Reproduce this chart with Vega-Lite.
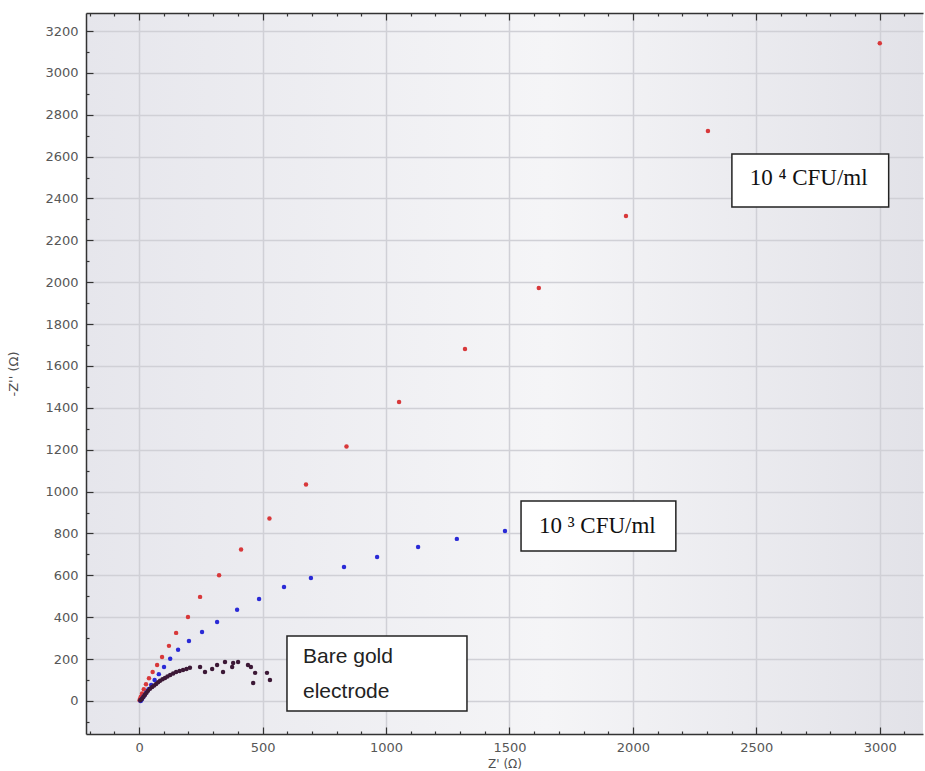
{
  "$schema": "https://vega.github.io/schema/vega-lite/v6.json",
  "width": 837,
  "height": 721,
  "autosize": "none",
  "padding": {"left": 86, "top": 13, "right": 2, "bottom": 37},
  "background": "white",
  "config": {
    "view": {
      "stroke": null,
      "fill": {"gradient": "linear", "x1": 0, "y1": 0, "x2": 1, "y2": 0, "stops": [
        {"offset": 0, "color": "#e6e6ec"},
        {"offset": 0.55, "color": "#f5f5f7"},
        {"offset": 1, "color": "#e2e2e8"}
      ]}
    },
    "axis": {
      "domainColor": "#333333",
      "domainWidth": 1.5,
      "tickColor": "#333333",
      "tickWidth": 1.2,
      "gridColor": "#d0d0d6",
      "gridWidth": 1.5,
      "labelFont": "DejaVu Sans",
      "labelFontSize": 13,
      "labelColor": "#575757",
      "titleFont": "DejaVu Sans",
      "titleFontSize": 13,
      "titleFontWeight": "normal",
      "titleColor": "#505050",
      "labelOverlap": false,
      "labelFlush": false
    }
  },
  "datasets": {
    "pts": [
      {"s": "1e4", "zr": 3000, "zi": 3142}, {"s": "1e4", "zr": 2304, "zi": 2722}, {"s": "1e4", "zr": 1972, "zi": 2316},
      {"s": "1e4", "zr": 1619, "zi": 1972}, {"s": "1e4", "zr": 1320, "zi": 1681}, {"s": "1e4", "zr": 1053, "zi": 1428},
      {"s": "1e4", "zr": 840, "zi": 1215}, {"s": "1e4", "zr": 676, "zi": 1034}, {"s": "1e4", "zr": 528, "zi": 871},
      {"s": "1e4", "zr": 413, "zi": 723}, {"s": "1e4", "zr": 324, "zi": 600}, {"s": "1e4", "zr": 247, "zi": 497},
      {"s": "1e4", "zr": 198, "zi": 401}, {"s": "1e4", "zr": 150, "zi": 325}, {"s": "1e4", "zr": 121, "zi": 263},
      {"s": "1e4", "zr": 93, "zi": 210}, {"s": "1e4", "zr": 73, "zi": 172}, {"s": "1e4", "zr": 55, "zi": 138},
      {"s": "1e4", "zr": 40, "zi": 108}, {"s": "1e4", "zr": 28, "zi": 80}, {"s": "1e4", "zr": 19, "zi": 56},
      {"s": "1e4", "zr": 12, "zi": 36}, {"s": "1e4", "zr": 7, "zi": 20}, {"s": "1e4", "zr": 4, "zi": 9},
      {"s": "1e4", "zr": 2, "zi": 3},
      {"s": "1e3", "zr": 1482, "zi": 812}, {"s": "1e3", "zr": 1287, "zi": 774}, {"s": "1e3", "zr": 1130, "zi": 735},
      {"s": "1e3", "zr": 964, "zi": 688}, {"s": "1e3", "zr": 830, "zi": 640}, {"s": "1e3", "zr": 696, "zi": 587},
      {"s": "1e3", "zr": 587, "zi": 544}, {"s": "1e3", "zr": 486, "zi": 487}, {"s": "1e3", "zr": 397, "zi": 435},
      {"s": "1e3", "zr": 316, "zi": 377}, {"s": "1e3", "zr": 255, "zi": 329}, {"s": "1e3", "zr": 202, "zi": 286},
      {"s": "1e3", "zr": 158, "zi": 244}, {"s": "1e3", "zr": 126, "zi": 201}, {"s": "1e3", "zr": 101, "zi": 162},
      {"s": "1e3", "zr": 80, "zi": 128}, {"s": "1e3", "zr": 63, "zi": 100}, {"s": "1e3", "zr": 49, "zi": 76},
      {"s": "1e3", "zr": 38, "zi": 56}, {"s": "1e3", "zr": 29, "zi": 40}, {"s": "1e3", "zr": 22, "zi": 27},
      {"s": "1e3", "zr": 16, "zi": 17}, {"s": "1e3", "zr": 12, "zi": 10}, {"s": "1e3", "zr": 9, "zi": 5},
      {"s": "1e3", "zr": 7, "zi": 2}, {"s": "1e3", "zr": 6, "zi": 0},
      {"s": "bare", "zr": 5, "zi": 3}, {"s": "bare", "zr": 12, "zi": 10}, {"s": "bare", "zr": 18, "zi": 20},
      {"s": "bare", "zr": 24, "zi": 29}, {"s": "bare", "zr": 30, "zi": 39}, {"s": "bare", "zr": 36, "zi": 48},
      {"s": "bare", "zr": 44, "zi": 58}, {"s": "bare", "zr": 53, "zi": 67}, {"s": "bare", "zr": 61, "zi": 74},
      {"s": "bare", "zr": 69, "zi": 81}, {"s": "bare", "zr": 77, "zi": 89}, {"s": "bare", "zr": 85, "zi": 96},
      {"s": "bare", "zr": 95, "zi": 103}, {"s": "bare", "zr": 105, "zi": 110}, {"s": "bare", "zr": 115, "zi": 117},
      {"s": "bare", "zr": 126, "zi": 124}, {"s": "bare", "zr": 138, "zi": 131}, {"s": "bare", "zr": 150, "zi": 138},
      {"s": "bare", "zr": 164, "zi": 143}, {"s": "bare", "zr": 178, "zi": 148}, {"s": "bare", "zr": 192, "zi": 153},
      {"s": "bare", "zr": 206, "zi": 158}, {"s": "bare", "zr": 247, "zi": 162}, {"s": "bare", "zr": 267, "zi": 138},
      {"s": "bare", "zr": 296, "zi": 153}, {"s": "bare", "zr": 316, "zi": 172}, {"s": "bare", "zr": 348, "zi": 186},
      {"s": "bare", "zr": 340, "zi": 138}, {"s": "bare", "zr": 377, "zi": 162}, {"s": "bare", "zr": 381, "zi": 181},
      {"s": "bare", "zr": 401, "zi": 186}, {"s": "bare", "zr": 441, "zi": 172}, {"s": "bare", "zr": 453, "zi": 162},
      {"s": "bare", "zr": 470, "zi": 134}, {"s": "bare", "zr": 462, "zi": 86}, {"s": "bare", "zr": 518, "zi": 134},
      {"s": "bare", "zr": 530, "zi": 100}
    ],
    "boxes": [
      {"x1": 2401, "x2": 3036, "y1": 2359, "y2": 2612},
      {"x1": 1547, "x2": 2174, "y1": 716, "y2": 955},
      {"x1": 599, "x2": 1328, "y1": -48, "y2": 310}
    ],
    "serifLabels": [
      {"x": 2712, "y": 2500, "t": "10 ⁴ CFU/ml"},
      {"x": 1856, "y": 836, "t": "10 ³ CFU/ml"}
    ],
    "sansLabels": [
      {"x": 664, "y": 210, "t": "Bare gold"},
      {"x": 664, "y": 43, "t": "electrode"}
    ]
  },
  "layer": [
    {
      "data": {"name": "pts"},
      "mark": {"type": "point", "filled": true, "size": 20, "opacity": 1},
      "encoding": {
        "x": {
          "field": "zr", "type": "quantitative",
          "scale": {"domain": [-215, 3175], "nice": false, "zero": false},
          "axis": {
            "orient": "bottom",
            "title": "Z' (Ω)",
            "titleFontSize": 12,
            "titleBaseline": "middle",
            "titleY": 29,
            "values": [-200,-100,0,100,200,300,400,500,600,700,800,900,1000,1100,1200,1300,1400,1500,1600,1700,1800,1900,2000,2100,2200,2300,2400,2500,2600,2700,2800,2900,3000,3100],
            "labelExpr": "datum.value % 500 === 0 ? format(datum.value, 'd') : ''",
            "labelPadding": 14,
            "tickSize": {"condition": {"test": "datum.value % 500 === 0", "value": -7}, "value": -3},
            "gridOpacity": {"condition": {"test": "datum.value % 500 === 0", "value": 1}, "value": 0}
          }
        },
        "y": {
          "field": "zi", "type": "quantitative",
          "scale": {"domain": [-158, 3286], "nice": false, "zero": false},
          "axis": {
            "orient": "left",
            "title": "-Z'' (Ω)",
            "titleX": -66,
            "values": [-100,0,100,200,300,400,500,600,700,800,900,1000,1100,1200,1300,1400,1500,1600,1700,1800,1900,2000,2100,2200,2300,2400,2500,2600,2700,2800,2900,3000,3100,3200],
            "labelExpr": "datum.value % 200 === 0 ? format(datum.value, 'd') : ''",
            "labelPadding": 15,
            "tickSize": {"condition": {"test": "datum.value % 200 === 0", "value": -7}, "value": -3},
            "gridOpacity": {"condition": {"test": "datum.value % 200 === 0", "value": 1}, "value": 0}
          }
        },
        "color": {
          "field": "s", "type": "nominal",
          "scale": {"domain": ["1e4", "1e3", "bare"], "range": ["#d8383a", "#2a2ad6", "#3c1836"]},
          "legend": null
        }
      }
    },
    {
      "data": {"name": "boxes"},
      "mark": {"type": "rect", "fill": "white", "stroke": "#222222", "strokeWidth": 1.5},
      "encoding": {
        "x": {"field": "x1", "type": "quantitative", "axis": {
          "orient": "top", "labels": false, "title": null, "grid": false,
          "values": [-200,-100,0,100,200,300,400,500,600,700,800,900,1000,1100,1200,1300,1400,1500,1600,1700,1800,1900,2000,2100,2200,2300,2400,2500,2600,2700,2800,2900,3000,3100],
          "tickSize": {"condition": {"test": "datum.value % 500 === 0", "value": -7}, "value": -3}
        }},
        "x2": {"field": "x2"},
        "y": {"field": "y1", "type": "quantitative", "axis": null},
        "y2": {"field": "y2"}
      }
    },
    {
      "data": {"name": "serifLabels"},
      "mark": {"type": "text", "font": "Liberation Serif", "fontSize": 23, "color": "#111111", "align": "center", "baseline": "middle"},
      "encoding": {
        "x": {"field": "x", "type": "quantitative", "axis": null},
        "y": {"field": "y", "type": "quantitative", "axis": null},
        "text": {"field": "t"}
      }
    },
    {
      "data": {"name": "sansLabels"},
      "mark": {"type": "text", "font": "Liberation Sans", "fontSize": 21, "color": "#222222", "align": "left", "baseline": "middle"},
      "encoding": {
        "x": {"field": "x", "type": "quantitative", "axis": null},
        "y": {"field": "y", "type": "quantitative", "axis": null},
        "text": {"field": "t"}
      }
    }
  ],
  "resolve": {"axis": {"x": "independent", "y": "independent"}}
}
